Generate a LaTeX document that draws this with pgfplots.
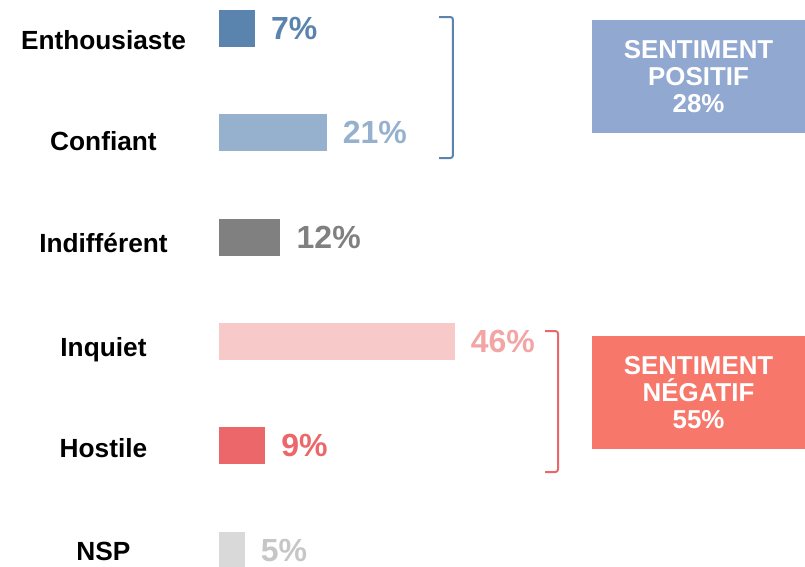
\documentclass[border=0pt]{standalone}
\usepackage{fontspec}
\setmainfont{Liberation Sans}
\usepackage{pgfplots}
\pgfplotsset{compat=1.18}

\definecolor{cEnth}{HTML}{5A83AE}
\definecolor{cConf}{HTML}{96B1CD}
\definecolor{cIndif}{HTML}{808080}
\definecolor{cInq}{HTML}{F7C9C9}
\definecolor{cInqTxt}{HTML}{F3A5A5}
\definecolor{cHost}{HTML}{EB676A}
\definecolor{cNsp}{HTML}{D9D9D9}
\definecolor{cNspTxt}{HTML}{C6C6C6}
\definecolor{boxPos}{HTML}{91A8D0}
\definecolor{boxNeg}{HTML}{F7786B}
\definecolor{brNeg}{HTML}{E8676A}

\begin{document}
\begin{tikzpicture}
\begin{axis}[
  width=603.75pt, height=424.5pt, scale only axis,
  hide axis,
  xmin=-42.77, xmax=114.45,
  ymin=-0.2733, ymax=5.153, y dir=reverse,
  xbar, bar width=27.75pt, bar shift=0pt,
  nodes near coords={\pgfmathprintnumber[assume math mode=true]{\pgfplotspointmeta}\%},
  every node near coord/.style={anchor=west, inner sep=0pt, xshift=12pt,
    font=\bfseries\fontsize{24}{24}\selectfont},
]
% barres
\addplot[fill=cEnth, draw=none, every node near coord/.append style={text=cEnth}]
  coordinates {(7,0)};
\addplot[fill=cConf, draw=none, every node near coord/.append style={text=cConf}]
  coordinates {(21,1)};
\addplot[fill=cIndif, draw=none, every node near coord/.append style={text=cIndif}]
  coordinates {(12,2)};
\addplot[fill=cInq, draw=none, every node near coord/.append style={text=cInqTxt}]
  coordinates {(46,3)};
\addplot[fill=cHost, draw=none, every node near coord/.append style={text=cHost}]
  coordinates {(9,4)};
\addplot[fill=cNsp, draw=none, every node near coord/.append style={text=cNspTxt}]
  coordinates {(5,5)};

% libellés des catégories
\begin{scope}[every node/.style={anchor=base, inner sep=0pt,
    font=\bfseries\fontsize{19.7}{19.7}\selectfont}]
\node at (axis cs:-22.56,0.1966) {Enthousiaste};
\node at (axis cs:-22.56,1.165) {Confiant};
\node at (axis cs:-22.56,2.152) {Indifférent};
\node at (axis cs:-22.56,3.140) {Inquiet};
\node at (axis cs:-22.56,4.108) {Hostile};
\node at (axis cs:-22.56,5.096) {NSP};
\end{scope}

% accolades
\draw[cEnth, line width=1.5pt, rounded corners=2pt]
  (axis cs:42.97,-0.1103) -- (axis cs:45.70,-0.1103) -- (axis cs:45.70,1.2416) -- (axis cs:42.97,1.2416);
\draw[brNeg, line width=1.5pt, rounded corners=2pt]
  (axis cs:63.67,2.900) -- (axis cs:66.21,2.900) -- (axis cs:66.21,4.252) -- (axis cs:63.67,4.252);

% encadrés
\fill[boxPos] (axis cs:72.85,-0.0815) rectangle (axis cs:114.45,1.0019);
\fill[boxNeg] (axis cs:72.85,2.948) rectangle (axis cs:114.45,4.032);
\node[text=white, align=center, font=\bfseries\fontsize{19.4}{20}\selectfont]
  at (axis cs:93.65,0.4602) {SENTIMENT\\POSITIF\\28\%};
\node[text=white, align=center, font=\bfseries\fontsize{19.4}{20}\selectfont]
  at (axis cs:93.65,3.490) {SENTIMENT\\NÉGATIF\\55\%};
\end{axis}
\path (current axis.south west) rectangle (current axis.north east);
\end{tikzpicture}
\end{document}
